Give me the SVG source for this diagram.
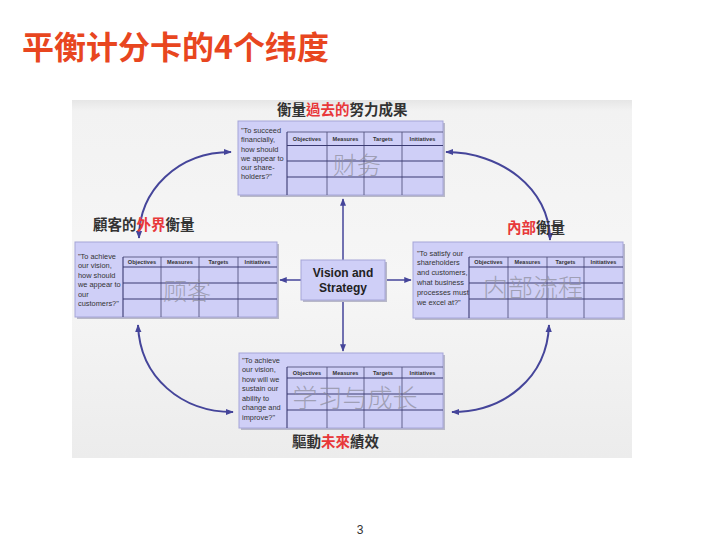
<svg xmlns="http://www.w3.org/2000/svg" width="720" height="540" viewBox="0 0 720 540">
<defs>
<style>
.title{font-family:"Noto Sans CJK SC","Noto Sans",sans-serif;font-weight:700;font-size:32px;fill:#E8461F}
.lbl{font-family:"Noto Sans CJK TC","Noto Sans CJK SC",serif;font-weight:700;font-size:14.5px;fill:#333}
.red{fill:#E8383A}
.box{fill:#CFCFF7;stroke:#A5A5D8;stroke-width:1}
.shadow{fill:#B8B8C8}
.q{font-family:"Liberation Sans",Arial,sans-serif;font-size:7.4px;fill:#333}
.hd{font-family:"Liberation Sans",Arial,sans-serif;font-size:5.6px;font-weight:700;fill:#333;text-anchor:middle}
.tl{stroke:#3B3B72;stroke-width:1.1;fill:none}
.tlv{stroke:#55557f;stroke-width:0.9;fill:none}
.wm{font-family:"Noto Sans CJK SC",sans-serif;font-weight:300;fill:#8f8f9f;opacity:0.75;text-anchor:middle}
.vs{font-family:"Liberation Sans",Arial,sans-serif;font-weight:700;font-size:12px;fill:#222;text-anchor:middle}
.arc{stroke:#45459A;stroke-width:2;fill:none}
.ax{stroke:#45459A;stroke-width:1.5;fill:none}
</style>
<marker id="ah" viewBox="0 0 10 10" refX="9" refY="5" markerWidth="4" markerHeight="4" orient="auto-start-reverse" markerUnits="strokeWidth">
<path d="M0,1 L10,5 L0,9 Z" fill="#45459A"/>
</marker>
<marker id="ah2" viewBox="0 0 10 10" refX="9" refY="5" markerWidth="5" markerHeight="5" orient="auto" markerUnits="strokeWidth">
<path d="M0,1 L10,5 L0,9 Z" fill="#45459A"/>
</marker>
<linearGradient id="pg" x1="0" y1="0" x2="0" y2="1">
<stop offset="0" stop-color="#E6E6E6"/>
<stop offset="0.03" stop-color="#F2F2F2"/>
<stop offset="0.5" stop-color="#F6F6F6"/>
<stop offset="1" stop-color="#ECECEC"/>
</linearGradient>
</defs>
<rect width="720" height="540" fill="#FFFFFF"/>
<g id="title"><text class="title" x="22" y="59">平衡计分卡的4个纬度</text></g>
<g id="panel"><rect x="72" y="100" width="560" height="358" fill="url(#pg)"/></g>

<g id="connectors">
<path class="arc" d="M139,238 C139,190 178,152 231,152" marker-start="url(#ah)" marker-end="url(#ah)"/>
<path class="arc" d="M446,152 C500,152 550,188 550,240" marker-start="url(#ah)" marker-end="url(#ah)"/>
<path class="arc" d="M138,325 C140,378 182,412 233,412" marker-start="url(#ah)" marker-end="url(#ah)"/>
<path class="arc" d="M549,325 C547,378 504,412 452,412" marker-start="url(#ah)" marker-end="url(#ah)"/>
<path class="ax" d="M343,260 L343,199" marker-end="url(#ah2)"/>
<path class="ax" d="M343,300 L343,351" marker-end="url(#ah2)"/>
<path class="ax" d="M301,280 L280,280" marker-end="url(#ah2)"/>
<path class="ax" d="M385,280 L411,280" marker-end="url(#ah2)"/>
</g>

<g id="node-finance">
<rect class="shadow" x="240" y="123" width="205" height="74"/>
<rect class="box" x="238" y="121" width="205" height="74"/>
<text class="q"><tspan x="241" y="133">"To succeed</tspan><tspan x="241" y="142">financially,</tspan><tspan x="241" y="151.5">how should</tspan><tspan x="241" y="160.5">we appear to</tspan><tspan x="241" y="170">our share-</tspan><tspan x="241" y="179">holders?"</tspan></text>
<path class="tlv" d="M287,132 H443 M327,132 V195 M364,132 V195 M402,132 V195"/>
<path class="tl" d="M287,132 V195 M287,145.5 H443 M287,161 H443 M287,177 H443"/>
<text class="hd" x="307" y="141">Objectives</text><text class="hd" x="345.5" y="141">Measures</text><text class="hd" x="383" y="141">Targets</text><text class="hd" x="422.5" y="141">Initiatives</text>
<text class="wm" x="357" y="174" font-size="24">财务</text>
<text class="lbl" x="277" y="115">衡量<tspan class="red">過去的</tspan>努力成果</text>
</g>

<g id="node-customer">
<rect class="shadow" x="77" y="244" width="202" height="75"/>
<rect class="box" x="75" y="242" width="202" height="75"/>
<text class="q"><tspan x="78" y="258.5">"To achieve</tspan><tspan x="78" y="268">our vision,</tspan><tspan x="78" y="277.5">how should</tspan><tspan x="78" y="287">we appear to</tspan><tspan x="78" y="296.5">our</tspan><tspan x="78" y="306">customers?"</tspan></text>
<path class="tlv" d="M123,257 H277 M161,257 V317 M199,257 V317 M238,257 V317"/>
<path class="tl" d="M123,257 V317 M123,267 H277 M123,283 H277 M123,299 H277"/>
<text class="hd" x="142" y="264">Objectives</text><text class="hd" x="180" y="264">Measures</text><text class="hd" x="218.5" y="264">Targets</text><text class="hd" x="257.5" y="264">Initiatives</text>
<text class="wm" x="187" y="300" font-size="24">顾客</text>
<text class="lbl" x="93" y="230">顧客的<tspan class="red">外界</tspan>衡量</text>
</g>

<g id="node-internal">
<rect class="shadow" x="415" y="244" width="210" height="76"/>
<rect class="box" x="413" y="242" width="210" height="76"/>
<text class="q"><tspan x="417" y="255.5">"To satisfy our</tspan><tspan x="417" y="265.3">shareholders</tspan><tspan x="417" y="275.1">and customers,</tspan><tspan x="417" y="284.9">what business</tspan><tspan x="417" y="294.7">processes must</tspan><tspan x="417" y="304.5">we excel at?"</tspan></text>
<path class="tlv" d="M469,257 H623 M508,257 V318 M547,257 V318 M584,257 V318"/>
<path class="tl" d="M469,257 V318 M469,267 H623 M469,283 H623 M469,299 H623"/>
<text class="hd" x="488.5" y="264">Objectives</text><text class="hd" x="527.5" y="264">Measures</text><text class="hd" x="565.5" y="264">Targets</text><text class="hd" x="603.5" y="264">Initiatives</text>
<text class="wm" x="533" y="297" font-size="25">内部流程</text>
<text class="lbl" x="507" y="233"><tspan class="red">內部</tspan>衡量</text>
</g>

<g id="node-learning">
<rect class="shadow" x="241" y="355" width="204" height="75"/>
<rect class="box" x="239" y="353" width="204" height="75"/>
<text class="q"><tspan x="242" y="362.5">"To achieve</tspan><tspan x="242" y="372">our vision,</tspan><tspan x="242" y="381.5">how will we</tspan><tspan x="242" y="391">sustain our</tspan><tspan x="242" y="400.5">ability to</tspan><tspan x="242" y="410">change and</tspan><tspan x="242" y="419.5">improve?"</tspan></text>
<path class="tlv" d="M287,367 H443 M327,367 V428 M364,367 V428 M402,367 V428"/>
<path class="tl" d="M287,367 V428 M287,378 H443 M287,394 H443 M287,410 H443"/>
<text class="hd" x="307" y="375">Objectives</text><text class="hd" x="345.5" y="375">Measures</text><text class="hd" x="383" y="375">Targets</text><text class="hd" x="422.5" y="375">Initiatives</text>
<text class="wm" x="355" y="407" font-size="25">学习与成长</text>
<text class="lbl" x="292" y="447">驅動<tspan class="red">未來</tspan>績效</text>
</g>

<g id="node-vision">
<rect class="shadow" x="303" y="262" width="84" height="40"/>
<rect class="box" x="301" y="260" width="84" height="40"/>
<text class="vs" x="343" y="277">Vision and</text>
<text class="vs" x="343" y="292">Strategy</text>
</g>

<g id="page"><text x="360" y="534" font-family="Liberation Sans, Arial, sans-serif" font-size="12" fill="#333" text-anchor="middle">3</text></g>
</svg>
